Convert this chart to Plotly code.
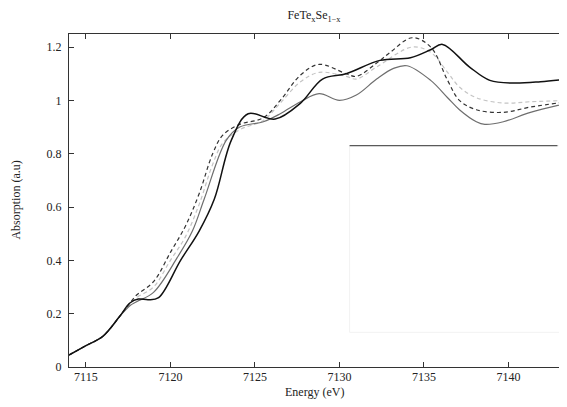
import plotly.graph_objects as go

# energies (eV) and absorption
e_black = [7114.0, 7115.0, 7116.0, 7117.0, 7117.6, 7118.1, 7118.7, 7119.3, 7120.6, 7121.7, 7122.6,
           7123.6, 7124.6, 7126.2, 7127.7, 7129.0, 7130.4, 7132.4, 7134.2, 7135.4, 7136.1, 7137.7,
           7138.9, 7140.3, 7141.9, 7143.5]
a_black = [0.045, 0.08, 0.115, 0.19, 0.24, 0.255, 0.252, 0.26, 0.40, 0.51, 0.63,
           0.85, 0.95, 0.93, 0.99, 1.08, 1.10, 1.15, 1.16, 1.19, 1.21, 1.125,
           1.075, 1.065, 1.07, 1.08]

e_dash = [7114.0, 7115.0, 7116.0, 7117.0, 7117.6, 7118.0, 7119.0, 7120.0, 7120.9, 7121.7, 7122.5,
          7123.1, 7124.1, 7125.5, 7126.5, 7127.7, 7128.8, 7130.4, 7131.0, 7132.2, 7133.0, 7134.3,
          7135.4, 7136.4, 7137.1, 7138.1, 7139.7, 7141.3, 7143.5]
a_dash = [0.045, 0.08, 0.115, 0.19, 0.24, 0.27, 0.32, 0.43, 0.53, 0.65, 0.80,
          0.87, 0.91, 0.935, 1.0, 1.095, 1.135, 1.10, 1.09, 1.14, 1.18, 1.235,
          1.2, 1.075, 1.0, 0.965, 0.955, 0.975, 0.995]

e_light = [7114.0, 7115.0, 7116.0, 7117.0, 7117.6, 7118.0, 7119.0, 7120.0, 7120.9, 7121.7, 7122.5,
           7123.1, 7124.1, 7125.5, 7126.5, 7127.7, 7128.8, 7130.4, 7131.0, 7132.2, 7134.3, 7135.4,
           7136.4, 7137.1, 7138.1, 7139.7, 7141.3, 7143.5]
a_light = [0.045, 0.08, 0.115, 0.19, 0.235, 0.26, 0.30, 0.40, 0.49, 0.61, 0.76,
           0.84, 0.89, 0.925, 0.99, 1.07, 1.105, 1.09, 1.08, 1.125, 1.2, 1.18,
           1.105, 1.05, 1.01, 0.99, 0.995, 1.0]

e_grey = [7114.0, 7115.0, 7116.0, 7117.0, 7117.6, 7118.0, 7119.0, 7120.4, 7121.3, 7122.0, 7123.3,
          7124.1, 7125.5, 7126.5, 7127.7, 7128.8, 7130.0, 7131.0, 7132.2, 7133.2, 7134.0, 7135.4,
          7136.4, 7137.1, 7138.1, 7138.6, 7139.7, 7141.3, 7143.5]
a_grey = [0.045, 0.08, 0.115, 0.19, 0.23, 0.245, 0.28, 0.41, 0.51, 0.63, 0.85,
          0.90, 0.92, 0.95, 0.995, 1.025, 1.0, 1.02, 1.08, 1.12, 1.13, 1.075,
          1.01, 0.965, 0.92, 0.91, 0.92, 0.955, 0.99]

font = "Liberation Serif"

fig = go.Figure()
fig.add_trace(go.Scatter(x=e_light, y=a_light, mode="lines", line_shape="spline",
                         line=dict(color="#c4c4c4", width=1.2, dash="4px,3px")))
fig.add_trace(go.Scatter(x=e_grey, y=a_grey, mode="lines", line_shape="spline",
                         line=dict(color="#6e6e6e", width=1.2)))
fig.add_trace(go.Scatter(x=e_dash, y=a_dash, mode="lines", line_shape="spline",
                         line=dict(color="#333333", width=1.2, dash="4px,3px")))
fig.add_trace(go.Scatter(x=e_black, y=a_black, mode="lines", line_shape="spline",
                         line=dict(color="#111111", width=1.5)))

# blanked-out legend box remnant
fig.add_shape(type="rect", x0=7130.6, x1=7143.2, y0=0.13, y1=0.83,
              line=dict(color="#f2f2f2", width=1), fillcolor="white")
fig.add_shape(type="line", x0=7130.6, x1=7142.9, y0=0.83, y1=0.83,
              line=dict(color="#333333", width=1))

# axis titles as annotations so the margins stay fixed
fig.add_annotation(text="Energy (eV)", xref="paper", yref="paper", x=0.5, y=-0.102,
                   xanchor="center", yanchor="bottom", showarrow=False,
                   font=dict(family=font, size=12, color="#222"))
fig.add_annotation(text="Absorption (a.u)", xref="paper", yref="paper", x=-0.11, y=0.5,
                   xanchor="center", yanchor="middle", textangle=-90, showarrow=False,
                   font=dict(family=font, size=12, color="#222"))

# page body keeps an 8px margin, so the figure is a bit smaller than the window
fig.update_layout(
    width=551, height=391,
    margin=dict(l=61, r=0, t=26, b=32, autoexpand=False),
    paper_bgcolor="white", plot_bgcolor="white",
    showlegend=False,
    font=dict(family=font, size=12, color="#222222"),
    title=dict(text="FeTe<sub>x</sub>Se<sub>1\u2212x</sub>", xref="paper", x=0.5,
               xanchor="center", y=0.993, yanchor="top", pad=dict(t=0),
               font=dict(family=font, size=12)),
)
fig.update_xaxes(
    range=[7114.0, 7142.99], tickvals=[7115, 7120, 7125, 7130, 7135, 7140],
    ticks="inside", ticklen=5, tickcolor="#333", showline=True, linecolor="#333",
    linewidth=1.2, mirror="ticks", showgrid=False, zeroline=False, automargin=False,
    ticklabelstandoff=-2,
)
fig.update_yaxes(
    range=[0, 1.249], tickvals=[0, 0.2, 0.4, 0.6, 0.8, 1.0, 1.2],
    ticktext=["0", "0.2", "0.4", "0.6", "0.8", "1", "1.2"],
    ticks="inside", ticklen=5, tickcolor="#333", showline=True, linecolor="#333",
    linewidth=1.2, showgrid=False, zeroline=False, automargin=False,
    ticklabelstandoff=4,
)

fig.write_html("out.html")
